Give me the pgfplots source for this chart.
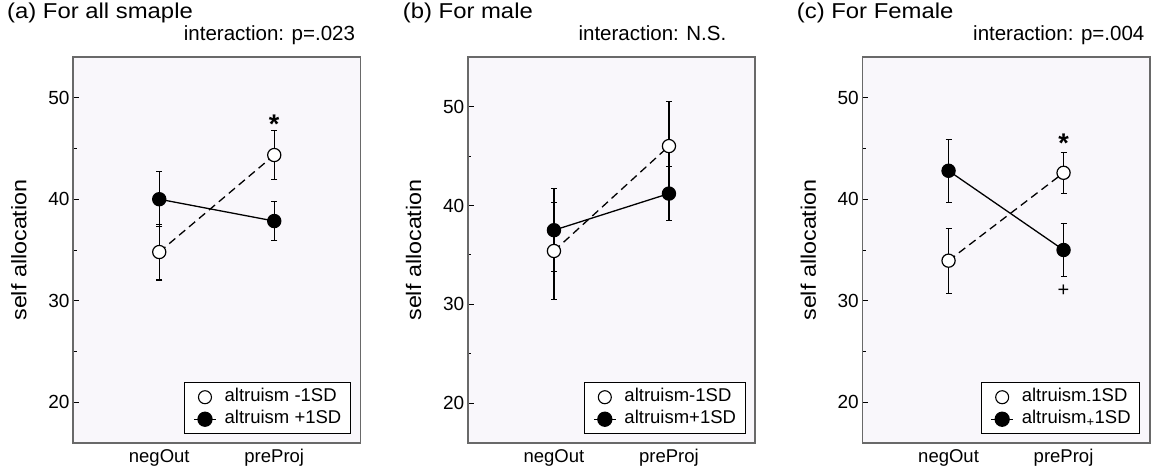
\documentclass[border=0pt]{standalone}
\usepackage{fontspec}
\setmainfont{Liberation Sans}
\newfontfamily\widefont{Liberation Sans}[FakeStretch=1.11]
\usepackage{pgfplots}
\pgfplotsset{compat=1.18}
\definecolor{bgc}{RGB}{249,247,251}
\definecolor{framec}{RGB}{105,105,105}
\pgfplotsset{
  panel/.style={
    scale only axis, width=287.5pt, height=386pt,
    xmin=-0.75, xmax=1.75, ymin=16,
    xtick={0,1}, xticklabels={negOut,preProj},
    ytick={20,30,40,50}, minor ytick={25,35,45},
    ytick pos=left, tick align=inside,
    major tick length=6pt, minor tick length=3.5pt,
    every tick/.style={black, line width=0.9pt},
    major x tick style={draw=none},
    axis line style={framec, line width=1.6pt},
    axis background/.style={fill=bgc},
    /pgf/number format/assume math mode=true,
    yticklabel style={font=\fontsize{19}{19}\selectfont},
    xticklabel style={font=\fontsize{18.5}{18.5}\selectfont, yshift=-3pt},
    ylabel={self allocation},
    every axis y label/.style={at={(axis description cs:-0.188,0.5)}, rotate=90, anchor=center, font=\widefont\fontsize{21}{21}\selectfont},
    title style={at={(axis description cs:0.385,1)}, anchor=base west, yshift=10pt, font=\fontsize{20.5}{20.5}\selectfont, inner sep=0pt},
    legend style={at={(axis description cs:0.966,0.023)}, anchor=south east, draw=black, line width=0.8pt, fill=white,
      font=\fontsize{18.5}{18.5}\selectfont, inner xsep=9pt, inner ysep=3.5pt, row sep=0pt,
      nodes={inner xsep=0pt, inner ysep=2pt, text height=13.5pt, text depth=4.5pt}},
    legend cell align=left,
    clip=false,
  },
  lowser/.style={black, line width=1.3pt, dash pattern=on 8pt off 5pt, mark=*, mark size=6.6pt,
    mark options={solid, fill=white, draw=black, line width=1.2pt},
    error bars/y dir=both, error bars/y explicit,
    error bars/error bar style={solid, black, line width=1.1pt},
    error bars/error mark options={solid, black, line width=1.1pt, mark size=3pt, rotate=90},
    legend image code/.code={\path (0pt,0pt) (30pt,0pt);
      \draw[solid, fill=white, draw=black, line width=1.1pt] (11pt,0pt) circle[radius=6.5pt];}},
  highser/.style={black, line width=1.3pt, solid, mark=*, mark size=6.6pt,
    mark options={solid, fill=black, draw=black, line width=1.2pt},
    error bars/y dir=both, error bars/y explicit,
    error bars/error bar style={solid, black, line width=1.1pt},
    error bars/error mark options={solid, black, line width=1.1pt, mark size=3pt, rotate=90},
    legend image code/.code={\path (0pt,0pt) (30pt,0pt);
      \draw[solid, line width=1.2pt] (0pt,0pt) -- (22pt,0pt);
      \fill[black] (11pt,0pt) circle[radius=7pt];}},
}
\begin{document}
\begin{tikzpicture}
\useasboundingbox (0,0) rectangle (1158pt,-476pt);
\node[anchor=base west, inner sep=0pt, font=\widefont\fontsize{21.5}{21.5}\selectfont] at (7pt,-18.3pt) {(a) For all smaple};
\node[anchor=base west, inner sep=0pt, font=\widefont\fontsize{21.5}{21.5}\selectfont] at (402.7pt,-18.3pt) {(b) For male};
\node[anchor=base west, inner sep=0pt, font=\widefont\fontsize{21.5}{21.5}\selectfont] at (796.7pt,-18.3pt) {(c) For Female};

% (a)
\begin{axis}[panel, at={(73pt,-57pt)}, anchor=north west, ymax=54, title={interaction: p=.023}]
\addplot[lowser] coordinates {(0,34.8) +- (0,2.75) (1,44.35) +- (0,2.45)};
\addlegendentry{altruism -1SD}
\addplot[highser] coordinates {(0,40.0) +- (0,2.7) (1,37.85) +- (0,1.95)};
\addlegendentry{altruism +1SD}
\node[anchor=base, inner sep=0pt, font=\bfseries\fontsize{27}{27}\selectfont] at (axis cs:1,46.5) {*};
\end{axis}

% (b)
\begin{axis}[panel, at={(467.7pt,-57pt)}, anchor=north west, ymax=55, title={interaction: N.S.}]
\addplot[lowser] coordinates {(0,35.4) +- (0,4.9) (1,46.0) +- (0,4.5)};
\addlegendentry{altruism-1SD}
\addplot[highser] coordinates {(0,37.5) +- (0,4.2) (1,41.2) +- (0,2.7)};
\addlegendentry{altruism+1SD}
\end{axis}

% (c)
\begin{axis}[panel, at={(862.3pt,-57pt)}, anchor=north west, ymax=54, title={interaction: p=.004}]
\addplot[lowser] coordinates {(0,33.95) +- (0,3.2) (1,42.6) +- (0,2.0)};
\addlegendentry{altruism\textsubscript{-}1SD}
\addplot[highser] coordinates {(0,42.8) +- (0,3.1) (1,35.0) +- (0,2.6)};
\addlegendentry{altruism\textsubscript{+}1SD}
\node[anchor=base, inner sep=0pt, font=\bfseries\fontsize{27}{27}\selectfont] at (axis cs:1,44.55) {*};
\node[anchor=base, inner sep=0pt, font=\fontsize{20}{20}\selectfont] at (axis cs:1,30.45) {+};
\end{axis}
\end{tikzpicture}
\end{document}
